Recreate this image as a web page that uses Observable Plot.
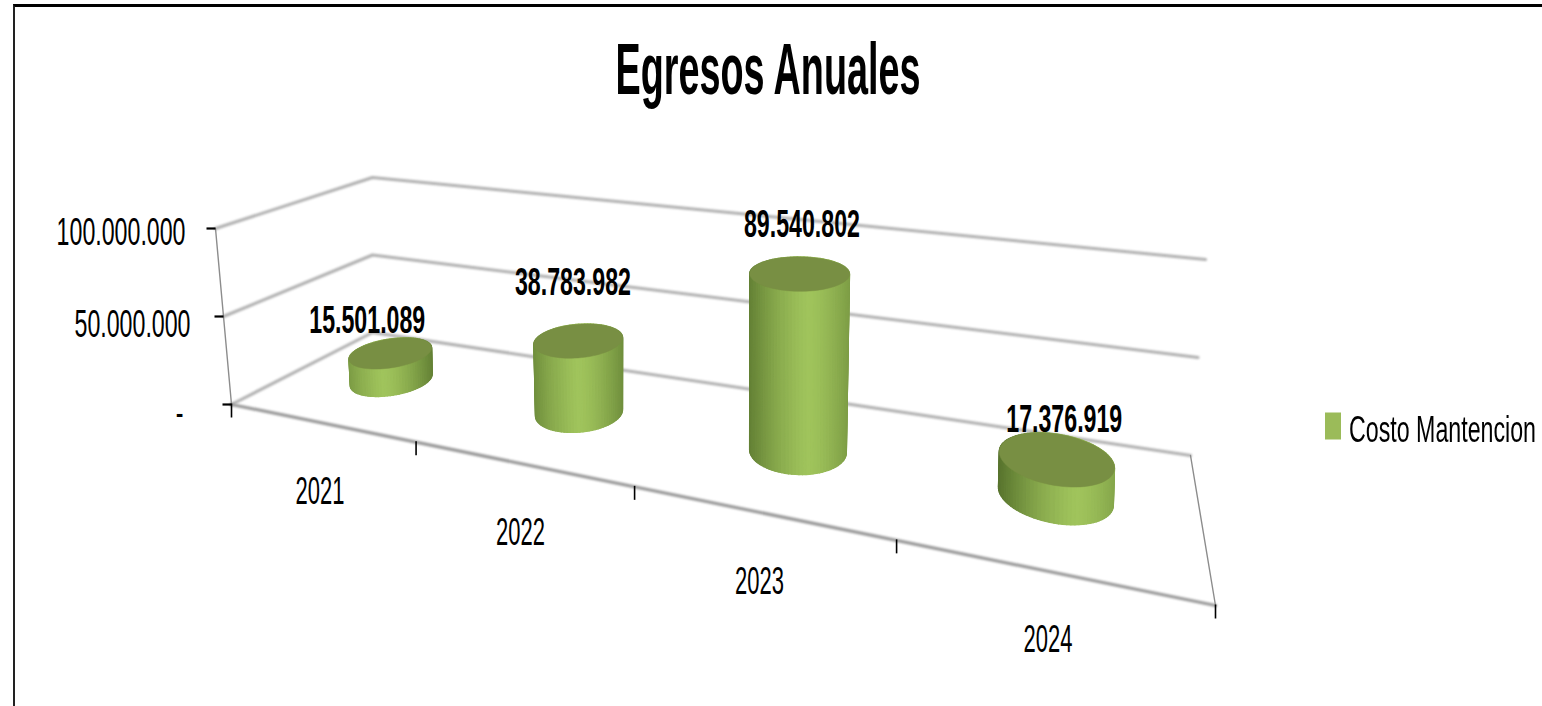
<!DOCTYPE html>
<html lang="es">
<head>
<meta charset="utf-8">
<script src="https://cdn.jsdelivr.net/npm/d3@7"></script>
<script src="https://cdn.jsdelivr.net/npm/@observablehq/plot@0.6"></script>
<style>
  html, body { margin: 0; padding: 0; background: #fff; width: 1542px; height: 706px; overflow: hidden; }
  #page { position: relative; width: 1542px; height: 706px; }
  #frame { position: absolute; left: 13px; top: 4px; right: 0; bottom: 0; border-top: 3px solid #000; border-left: 2px solid #222; }
  #chart { position: absolute; left: 0; top: 0; width: 1542px; height: 706px; }
  #title { position: absolute; left: 768px; top: 28px; margin: 0; white-space: nowrap; color: #000;
           font: bold 72px "Liberation Sans", sans-serif; transform-origin: 0 50%; }
  #legend { position: absolute; left: 1325px; top: 409px; display: flex; align-items: center; white-space: nowrap; }
  #legend i { display: block; width: 16px; height: 27px; background: #9bbb59; margin-right: 8px; transform: translateY(-4.5px); }
  #legend span { display: block; color: #000; font: 36px "Liberation Sans", sans-serif; transform-origin: 0 50%; }
</style>
</head>
<body>
<div id="page">
  <div id="frame"></div>
  <div id="chart"></div>
  <h1 id="title">Egresos Anuales</h1>
  <div id="legend"><i></i><span>Costo Mantencion</span></div>
</div>
<script>
// ---- data ----
const years = ["2021", "2022", "2023", "2024"];
const costoMantencion = [15501089, 38783982, 89540802, 17376919];
const costoLabels = ["15.501.089", "38.783.982", "89.540.802", "17.376.919"];
const axisValues = [0, 50000000, 100000000];
const axisLabels = ["-", "50.000.000", "100.000.000"];

// ---- view of the 3D box: floor corners and the rise of the value axis at each corner ----
const floorCorners = {fl: [231, 404], fr: [1215, 605], bl: [372, 332], br: [1190, 455]};
const riseAt = {fl: [-16, -176], fr: [0, -235], bl: [0, -155], br: [15, -196]};
const axisMax = 100000000;
const spread = 0.085;          // uneven category spacing of the view
const radiusAcross = 0.048, radiusDeep = 0.2, depthMid = 0.5;
const axisLabelShift = [[-48, 9], [-33, 8], [-30, 4]];
const valueLabelShift = [[-24, -32], [-6, -58], [2, -49], [8, -39]];

const homography = (() => {
  const {fl: p0, fr: p1, br: p2, bl: p3} = floorCorners;
  const dx1 = p1[0] - p2[0], dx2 = p3[0] - p2[0], sx = p0[0] - p1[0] + p2[0] - p3[0];
  const dy1 = p1[1] - p2[1], dy2 = p3[1] - p2[1], sy = p0[1] - p1[1] + p2[1] - p3[1];
  const det = dx1 * dy2 - dx2 * dy1;
  const g = (sx * dy2 - dx2 * sy) / det, h = (dx1 * sy - sx * dy1) / det;
  const a = p1[0] - p0[0] + g * p1[0], b = p3[0] - p0[0] + h * p3[0];
  const d = p1[1] - p0[1] + g * p1[1], e = p3[1] - p0[1] + h * p3[1];
  return (s, t) => {
    const w = g * s + h * t + 1;
    return [(a * s + b * t + p0[0]) / w, (d * s + e * t + p0[1]) / w];
  };
})();
const warp = (u) => u + spread * u * (1 - u);          // category position 0..1 along the floor
const project = (s, t, v) => {
  const [x, y] = homography(s, t);
  const k = v / axisMax;
  const mix = (i) => (riseAt.fl[i] * (1 - s) + riseAt.fr[i] * s) * (1 - t) + (riseAt.bl[i] * (1 - s) + riseAt.br[i] * s) * t;
  return {x: x + k * mix(0), y: y + k * mix(1)};
};

// ---- marks' tables, all built from the values through the projection ----
const n = years.length;
const gridRows = axisValues.flatMap((v) =>
  [[0, 0], [0, 1], [1, 1]].map(([s, t]) => ({v, ...project(s, t, v)})));
const frontEdge = [project(0, 0, 0), project(1, 0, 0)];
const wallLines = [
  {id: "left", ...project(0, 0, axisMax)}, {id: "left", ...project(0, 0, 0)},
  {id: "right", ...project(1, 1, 0)}, {id: "right", ...project(1, 0, 0)}
];
const valueTicks = axisValues.map((v, i) => ({v, label: axisLabels[i], shift: axisLabelShift[i], ...project(0, 0, v)}));
const catTicks = d3.range(n + 1).map((i) => project(warp(i / n), 0, 0));
const catLabels = years.map((y, i) => ({y0: y, ...project(warp((i + 0.5) / n), 0, 0)}));

const bright = "#a0c45c", dark = "#4f6a28", topColor = "#788f43", underColor = "#8bab4e";
const shade = d3.interpolateRgb(bright, dark);
const STEPS = 90;
const bodyRows = [], topRows = [], baseRows = [], barLabels = [];
costoMantencion.forEach((value, b) => {
  const sc = warp((b + 0.5) / n);
  const ring = (a, v) => project(sc + radiusAcross * Math.cos(a), depthMid + radiusDeep * Math.sin(a), v);
  const angles = d3.range(STEPS).map((i) => (i / STEPS) * 2 * Math.PI);
  const xs = angles.flatMap((a) => [ring(a, 0).x, ring(a, value).x]);
  const [x0, x1] = d3.extent(xs);
  const highlight = 0.37 + 0.34 * sc;
  const da = (2 * Math.PI) / STEPS;
  // back of the wall first, so that the front strips cover it
  d3.sort(angles, (a) => -Math.sin(a + da / 2)).forEach((a) => {
    const mid = (ring(a + da / 2, 0).x + ring(a + da / 2, value).x) / 2;
    const d = Math.abs((mid - x0) / (x1 - x0) - highlight) / 0.72;
    const color = shade(Math.pow(Math.min(d, 1), 1.4));
    for (const q of [a, a + da]) {
      const tp = ring(q, value), bt = ring(q, 0);
      bodyRows.push({strip: `${b}-${a}`, xt: tp.x, yt: tp.y, xb: bt.x, yb: bt.y, color});
    }
  });
  d3.range(0, STEPS / 2 + 1).forEach((i) => {
    const a = (i / STEPS) * 2 * Math.PI;
    const p = ring(a, value), q = ring(-a, value);
    topRows.push({bar: b, x1: p.x, y1: p.y, x2: q.x, y2: q.y});
    const pb = ring(a, 0), qb = ring(-a, 0);
    baseRows.push({bar: b, x1: pb.x, y1: pb.y, x2: qb.x, y2: qb.y});
  });
  const c = project(sc, depthMid, value);
  barLabels.push({label: costoLabels[b], x: c.x + valueLabelShift[b][0], y: c.y + valueLabelShift[b][1]});
});

const FONT = '"Liberation Sans", sans-serif';
const svgPlot = Plot.plot({
  width: 1542, height: 706, margin: 0,
  style: {background: "transparent", fontFamily: FONT},
  x: {domain: [0, 1542], range: [0, 1542], axis: null},
  y: {domain: [0, 706], range: [0, 706], axis: null},
  color: {type: "identity"},
  marks: [
    Plot.line(gridRows, {x: "x", y: "y", z: "v", stroke: "#b0b0b0", strokeWidth: 3, imageFilter: "blur(0.8px)"}),
    Plot.line(frontEdge, {x: "x", y: "y", stroke: "#999", strokeWidth: 3.2, imageFilter: "blur(0.8px)"}),
    Plot.line(wallLines, {x: "x", y: "y", z: "id", stroke: "#8c8c8c", strokeWidth: 1.4}),
    Plot.link(valueTicks, {x1: (d) => d.x - 9, x2: "x", y1: "y", y2: "y", stroke: "#000", strokeWidth: 2.2}),
    Plot.link(catTicks, {x1: "x", x2: "x", y1: (d) => d.y - 1, y2: (d) => d.y + 13, stroke: "#000", strokeWidth: 1.6}),
    Plot.area(baseRows, {x1: "x1", y1: "y1", x2: "x2", y2: "y2", z: "bar", fill: underColor}),
    Plot.area(bodyRows, {x1: "xt", y1: "yt", x2: "xb", y2: "yb", z: "strip", fill: "color", stroke: "color", strokeWidth: 1.2}),
    Plot.area(topRows, {x1: "x1", y1: "y1", x2: "x2", y2: "y2", z: "bar", fill: topColor, stroke: topColor, strokeWidth: 0.5}),
    Plot.text(valueTicks, {x: (d) => d.x + d.shift[0], y: (d) => d.y + d.shift[1], text: "label", textAnchor: "end", fontSize: 38, fill: "#000"}),
    Plot.text(catLabels, {x: "x", y: (d) => d.y + 69, text: "y0", fontSize: 38, fill: "#000"}),
    Plot.text(barLabels, {x: "x", y: "y", text: "label", fontSize: 38, fontWeight: "bold", fill: "#000"})
  ]
});
document.getElementById("chart").append(svgPlot);

// the reference's lettering is squeezed horizontally
svgPlot.querySelectorAll("text").forEach((t) => {
  const squeeze = t.textContent.length === 4 ? 0.58 : 0.61;
  t.setAttribute("textLength", (t.getComputedTextLength() * squeeze).toFixed(1));
  t.setAttribute("lengthAdjust", "spacingAndGlyphs");
});
const title = document.getElementById("title");
const titleWidth = title.getBoundingClientRect().width;
title.style.transform = `translateX(${-305 / 2}px) scaleX(${305 / titleWidth})`;
const legendText = document.querySelector("#legend span");
legendText.style.transform = `scaleX(${187 / legendText.getBoundingClientRect().width})`;
</script>
</body>
</html>
